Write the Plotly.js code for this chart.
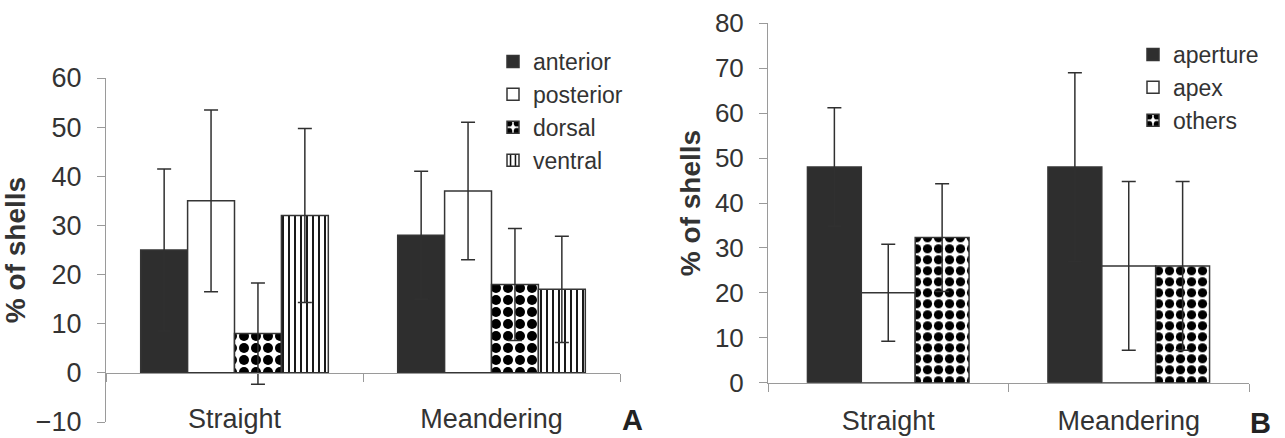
<!DOCTYPE html>
<html><head><meta charset="utf-8">
<script src="https://cdn.plot.ly/plotly-3.0.1.min.js"></script>
<style>html,body{margin:0;padding:0;background:#fff}</style>
</head><body><div id="chart" style="width:1285px;height:438px"></div>
<script>
// ---- data ----
const categories = ['Straight', 'Meandering'];
const anteriorVals = [25, 28];
const anteriorErr = [16.5, 13];
const posteriorVals = [35, 37];
const posteriorErr = [18.5, 14];
const dorsalVals = [8, 18];
const dorsalErr = [10.3, 11.4];
const ventralVals = [32, 17];
const ventralErr = [17.7, 10.8];

const apertureVals = [48, 48];
const apertureErr = [13.2, 21];
const apexVals = [20, 26];
const apexErr = [10.8, 18.8];
const othersVals = [32.3, 26];
const othersErr = [12, 18.8];

const yTicksA = [-10, 0, 10, 20, 30, 40, 50, 60];
const yTicksB = [0, 10, 20, 30, 40, 50, 60, 70, 80];

// ---- styles ----
const FONT = 'Liberation Sans, Arial, sans-serif';
const TXT = '#333333';
const AX = '#9a9a9a';
const DARK = '#2e2e2e';
const OUT = {color: '#353535', width: 1.5};
const errStyle = (arr) => ({type: 'data', array: arr, visible: true, color: '#303030', thickness: 1.5, width: 7});

function bar(name, y, err, ax, legend, fill, pattern, extra) {
  const marker = {color: fill, line: OUT};
  if (pattern) marker.pattern = pattern;
  return Object.assign({
    type: 'bar', name: name, x: categories, y: y,
    xaxis: ax[0], yaxis: ax[1], legend: legend,
    marker: marker, error_y: errStyle(err), hoverinfo: 'none'
  }, extra || {});
}

const dots = {shape: '.', fgcolor: '#000', bgcolor: '#fff', size: 12, solidity: 0.55, fillmode: 'replace'};
const dotsB = {shape: '.', fgcolor: '#000', bgcolor: '#fff', size: 11, solidity: 0.55, fillmode: 'replace'};
const vlines = {shape: '|', fgcolor: '#000', bgcolor: '#fff', size: 6, solidity: 0.3, fillmode: 'replace'};

// panel B bar geometry (width in category units) -> offsets derived from width
const wB = 0.224;

const traces = [
  bar('anterior', anteriorVals, anteriorErr, ['x', 'y'], 'legend', DARK),
  bar('posterior', posteriorVals, posteriorErr, ['x', 'y'], 'legend', '#ffffff'),
  bar('dorsal', dorsalVals, dorsalErr, ['x', 'y'], 'legend', '#ffffff', dots),
  bar('ventral', ventralVals, ventralErr, ['x', 'y'], 'legend', '#ffffff', vlines),
  bar('aperture', apertureVals, apertureErr, ['x2', 'y2'], 'legend2', DARK, null, {width: wB, offset: -1.5 * wB}),
  bar('apex', apexVals, apexErr, ['x2', 'y2'], 'legend2', '#ffffff', null, {width: wB, offset: -0.5 * wB}),
  bar('others', othersVals, othersErr, ['x2', 'y2'], 'legend2', '#ffffff', dotsB, {width: wB, offset: 0.5 * wB})
];

const H = 438, W = 1285;
const yDomA = [16 / H, 360 / H];
const yDomB = [(H - 382.7) / H, (H - 23.3) / H];
const rangeA = [-10, 60];
const zeroPosA = yDomA[0] + (0 - rangeA[0]) / (rangeA[1] - rangeA[0]) * (yDomA[1] - yDomA[0]);

const xaxisBase = {
  type: 'category', showline: true, linecolor: AX, linewidth: 1,
  ticks: 'outside', tickson: 'boundaries', ticklen: 8, tickcolor: AX,
  showgrid: false, zeroline: false, fixedrange: true,
  tickfont: {family: FONT, size: 27, color: TXT}
};
const yaxisBase = {
  showline: true, linecolor: AX, linewidth: 1, ticks: 'outside', ticklen: 8, tickcolor: AX,
  showgrid: false, zeroline: false, fixedrange: true
};

const layout = {
  width: W, height: H, margin: {l: 0, r: 0, t: 0, b: 0},
  paper_bgcolor: '#fff', plot_bgcolor: 'rgba(0,0,0,0)',
  barmode: 'group', bargap: 0.27, bargroupgap: 0,
  font: {family: FONT, color: TXT},
  xaxis: Object.assign({}, xaxisBase, {domain: [106 / W, 620 / W], anchor: 'free', position: zeroPosA, ticklabelstandoff: 22}),
  yaxis: Object.assign({}, yaxisBase, {domain: yDomA, range: rangeA, tickvals: yTicksA, anchor: 'x',
    tickfont: {family: FONT, size: 27, color: TXT}, ticklabelstandoff: 10,
    title: {text: '% of shells', standoff: 8, font: {family: FONT, size: 28, color: TXT, weight: 'bold'}}}),
  xaxis2: Object.assign({}, xaxisBase, {domain: [768 / W, 1249 / W], anchor: 'y2', ticklabelstandoff: 14}),
  yaxis2: Object.assign({}, yaxisBase, {domain: yDomB, range: [0, 80], tickvals: yTicksB, anchor: 'x2',
    tickfont: {family: FONT, size: 26, color: TXT}, ticklabelstandoff: 10,
    title: {text: '% of shells', standoff: 6, font: {family: FONT, size: 28, color: TXT, weight: 'bold'}}}),
  legend: {x: 493 / W, xanchor: 'left', y: 1 - 40 / H, yanchor: 'top', bgcolor: 'rgba(0,0,0,0)',
    font: {family: FONT, size: 23, color: TXT}, tracegroupgap: 0, itemclick: false},
  legend2: {x: 1133 / W, xanchor: 'left', y: 1 - 33 / H, yanchor: 'top', bgcolor: 'rgba(0,0,0,0)',
    font: {family: FONT, size: 23, color: TXT}, tracegroupgap: 0, itemclick: false},
  annotations: [
    {text: '<b>A</b>', xref: 'paper', yref: 'paper', x: 632 / W, y: 1 - 420 / H, xanchor: 'center', yanchor: 'middle',
      showarrow: false, font: {family: FONT, size: 29, color: '#222'}},
    {text: '<b>B</b>', xref: 'paper', yref: 'paper', x: 1260 / W, y: 1 - 423 / H, xanchor: 'center', yanchor: 'middle',
      showarrow: false, font: {family: FONT, size: 29, color: '#222'}}
  ]
};

Plotly.newPlot('chart', traces, layout, {staticPlot: true, displayModeBar: false});
</script>
</body></html>
